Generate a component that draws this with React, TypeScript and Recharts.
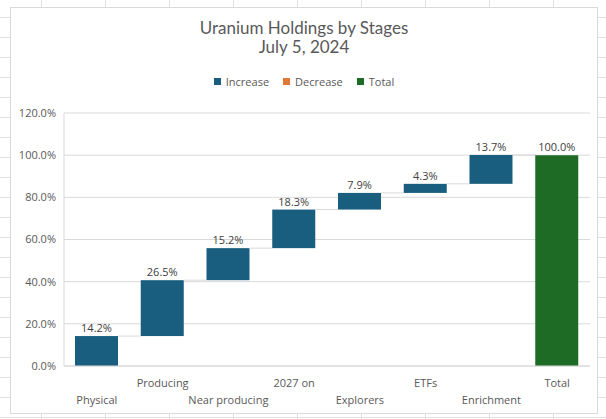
import React from 'react';
import { BarChart, Bar, XAxis, YAxis, CartesianGrid, LabelList } from 'recharts';

const stages = ['Physical', 'Producing', 'Near producing', '2027 on', 'Explorers', 'ETFs', 'Enrichment', 'Total'];
const increases = [14.2, 26.5, 15.2, 18.3, 7.9, 4.3, 13.7, null];
const totals = [null, null, null, null, null, null, null, 100.0];
const yTicks = [0, 20, 40, 60, 80, 100, 120];

const legendItems = [
  { name: 'Increase', color: '#1a5e7f' },
  { name: 'Decrease', color: '#e2773a' },
  { name: 'Total', color: '#1e6b25' },
];

const CHART_W = 588;
const CHART_H = 407;
const MARGIN = { top: 106, right: 8, bottom: 8, left: 8 };
const Y_AXIS_W = 46;
const BAR_SIZE = 43;
const BAND = (CHART_W - MARGIN.left - MARGIN.right - Y_AXIS_W) / stages.length;

const textColor = '#595959';
const gridColor = '#d9d9d9';
const font = '"Open Sans", sans-serif';

// running total gives the invisible base under each increase bar
let running = 0;
const data = stages.map((stage, i) => {
  const inc = increases[i];
  const row = {
    stage,
    base: inc == null ? 0 : running,
    increase: inc,
    total: totals[i],
  };
  if (inc != null) running += inc;
  return row;
});

const IncreaseShape = (props: any) => {
  const { x, y, width, height, fill } = props;
  if (!height) return null;
  return (
    <g>
      <rect x={x} y={y} width={width} height={height} fill={fill} />
      <line x1={x + width} x2={x + width + (BAND - BAR_SIZE)} y1={y} y2={y} stroke={gridColor} strokeWidth={1} />
    </g>
  );
};

const StageTick = (props: any) => {
  const { x, y, payload, index } = props;
  const low = index % 2 === 0;
  return (
    <text x={x} y={y} dy={low ? 30 : 13} textAnchor="middle" fill={textColor} fontSize={11} fontFamily={font}>
      {payload.value}
    </text>
  );
};

const pct = (v: any) => (v == null ? '' : `${Number(v).toFixed(1)}%`);

export default function App() {
  return (
    <div
      style={{
        position: 'absolute',
        left: 0,
        top: 0,
        width: 606,
        height: 419,
        background: '#fff',
        backgroundImage:
          'linear-gradient(to right, #e0e0e0 1px, transparent 1px), linear-gradient(to bottom, #e0e0e0 1px, transparent 1px)',
        backgroundSize: '64px 20px',
        backgroundPosition: '41px 17px',
        overflow: 'hidden',
      }}
    >
      <div
        style={{
          position: 'absolute',
          left: 10,
          top: 7,
          width: CHART_W,
          height: CHART_H,
          background: '#fff',
          border: `1px solid ${gridColor}`,
          boxSizing: 'border-box',
        }}
      />
      <div style={{ position: 'absolute', left: 10, top: 7, width: CHART_W, height: CHART_H }}>
        <div
          style={{
            position: 'absolute',
            top: 11,
            width: '100%',
            textAlign: 'center',
            fontFamily: 'Lato, sans-serif',
            fontSize: 17,
            lineHeight: '19px',
            color: textColor,
          }}
        >
          Uranium Holdings by Stages
          <br />
          July 5, 2024
        </div>
        <div
          style={{
            position: 'absolute',
            top: 67,
            left: 0,
            width: '100%',
            display: 'flex',
            justifyContent: 'center',
            gap: 14,
            fontFamily: font,
            fontSize: 11,
            color: textColor,
          }}
        >
          {legendItems.map((it) => (
            <div key={it.name} style={{ display: 'flex', alignItems: 'center', gap: 5 }}>
              <span style={{ width: 7, height: 7, background: it.color, display: 'inline-block' }} />
              <span>{it.name}</span>
            </div>
          ))}
        </div>
        <BarChart width={CHART_W} height={CHART_H} data={data} margin={MARGIN} barSize={BAR_SIZE}>
          <CartesianGrid vertical={false} stroke={gridColor} />
          <XAxis
            dataKey="stage"
            interval={0}
            height={40}
            tickLine={false}
            axisLine={{ stroke: gridColor }}
            tick={<StageTick />}
          />
          <YAxis
            width={Y_AXIS_W}
            domain={[0, 120]}
            ticks={yTicks}
            tickFormatter={pct}
            tickLine={false}
            axisLine={{ stroke: gridColor }}
            tick={{ fill: textColor, fontSize: 11, fontFamily: font }}
          />
          <Bar dataKey="base" stackId="w" fill="transparent" isAnimationActive={false} />
          <Bar dataKey="increase" stackId="w" fill="#1a5e7f" shape={<IncreaseShape />} isAnimationActive={false}>
            <LabelList dataKey="increase" position="top" formatter={pct} fill="#404040" fontSize={11} fontFamily={font} offset={4} />
          </Bar>
          <Bar dataKey="total" stackId="w" fill="#1e6b25" isAnimationActive={false}>
            <LabelList dataKey="total" position="top" formatter={pct} fill="#404040" fontSize={11} fontFamily={font} offset={4} />
          </Bar>
        </BarChart>
      </div>
    </div>
  );
}
